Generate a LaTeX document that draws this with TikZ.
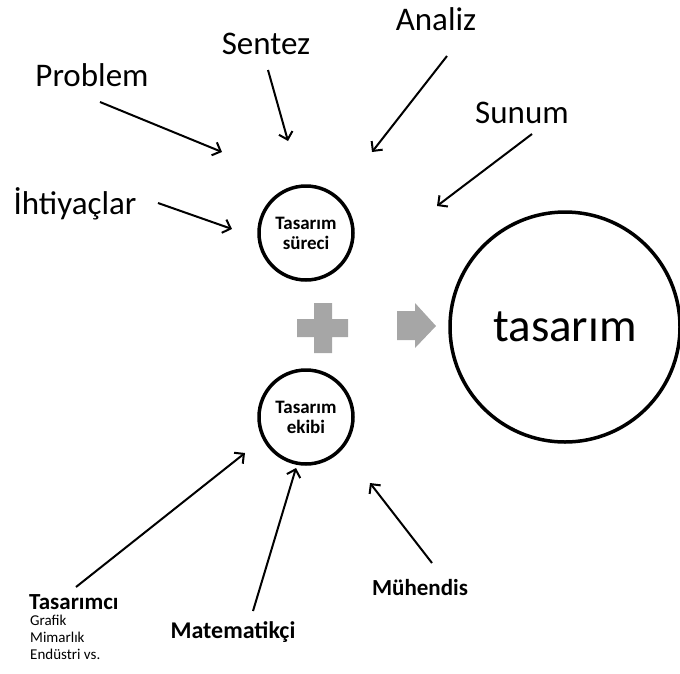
\documentclass[tikz,border=0pt]{standalone}
\usepackage{fontspec}
\setmainfont{Carlito}
\usetikzlibrary{arrows.meta}

\begin{document}
\begin{tikzpicture}[x=1pt,y=-1pt,
  halka/.style={draw,circle,line width=3.5pt,align=center,inner sep=0pt},
  etiket/.style={font=\fontsize{33}{36}\selectfont,inner sep=0pt},
  altetiket/.style={font=\fontsize{23}{25}\selectfont\bfseries,inner sep=0pt},
  ok/.style={line width=2pt,-{Straight Barb[length=7pt,width=14pt,line width=2pt]}},
  gri/.style={fill=black!35,draw=none}]
\useasboundingbox (0,0) rectangle (680,673);
% daireler
\node[halka,minimum size=94pt,font=\fontsize{19}{20}\selectfont\bfseries] (surec) at (306,233) {Tasarım\\süreci};
\node[halka,minimum size=94pt,font=\fontsize{19}{20}\selectfont\bfseries] (ekip) at (306,417) {Tasarım\\ekibi};
\node[halka,minimum size=230pt,font=\fontsize{47}{50}\selectfont] (tasarim) at (565,327) {tasarım};
% arti ve ok
\fill[gri] (314,303)--(332,303)--(332,319)--(348,319)--(348,337)--(332,337)--(332,353)--(314,353)--(314,337)--(297,337)--(297,319)--(314,319)--cycle;
\fill[gri] (397,311)--(415,311)--(415,303)--(436,326)--(415,348)--(415,340)--(397,340)--cycle;
% ust etiketler
\node[etiket] (problem) at (92,75) {Problem};
\node[etiket] (sentez) at (266,44) {Sentez};
\node[etiket] (analiz) at (436,19) {Analiz};
\node[etiket] (sunum) at (522,113) {Sunum};
\node[etiket] (ihtiyac) at (75,204) {İhtiyaçlar};
\coordinate (s1) at (100,102); \coordinate (p1) at (222,152);
\coordinate (s2) at (268,70);  \coordinate (p2) at (288,141);
\coordinate (s3) at (447,56);  \coordinate (p3) at (372,152);
\coordinate (s4) at (532,134); \coordinate (p4) at (437,206);
\coordinate (s5) at (158,203); \coordinate (p5) at (232,229);
\draw[ok] (s1) -- (p1);
\draw[ok] (s2) -- (p2);
\draw[ok] (s3) -- (p3);
\draw[ok] (s4) -- (p4);
\draw[ok] (s5) -- (p5);
% alt etiketler
\node[altetiket,anchor=west] (tasarimci) at (29,602) {Tasarımcı};
\node[anchor=north west,align=left,inner sep=0pt,font=\fontsize{15}{17}\selectfont] (alanlar) at (30,615) {Grafik\\Mimarlık\\Endüstri vs.};
\node[altetiket,font=\fontsize{24}{26}\selectfont\bfseries] (matematik) at (233,632) {Matematikçi};
\node[altetiket] (muhendis) at (420,588) {Mühendis};
\coordinate (t1) at (76,587);  \coordinate (q1) at (245,453);
\coordinate (t2) at (253,611); \coordinate (q2) at (296,468);
\coordinate (t3) at (432,563); \coordinate (q3) at (370,483);
\draw[ok] (t1) -- (q1);
\draw[ok] (t2) -- (q2);
\draw[ok] (t3) -- (q3);
\end{tikzpicture}
\end{document}
